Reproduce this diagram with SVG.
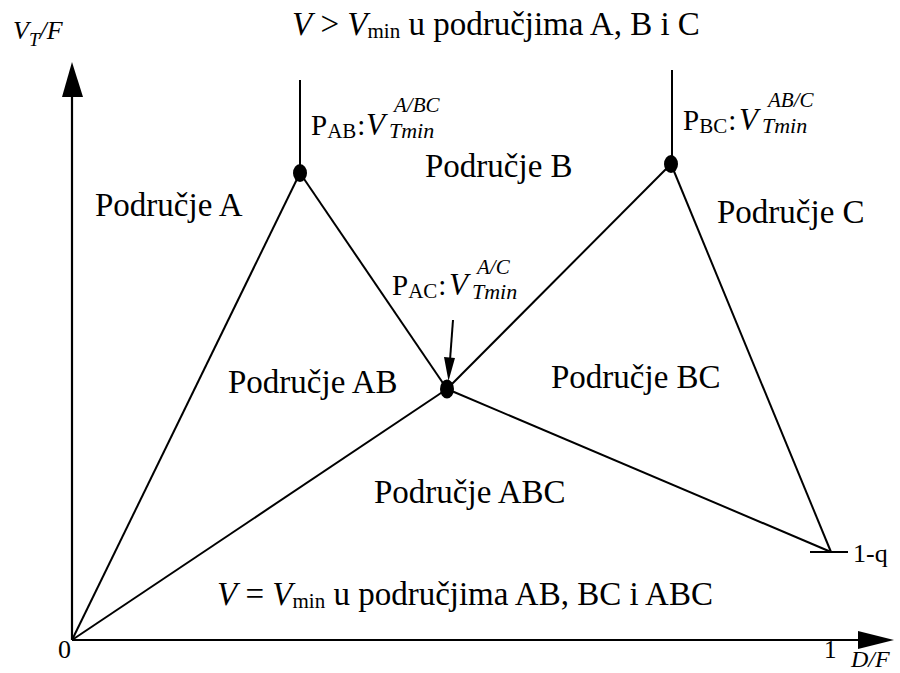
<svg xmlns="http://www.w3.org/2000/svg" width="900" height="673" viewBox="0 0 900 673">
<style>
text{font-family:"Liberation Serif","Times New Roman",serif;fill:#000}
.lbl{font-size:33px}
.it{font-style:italic}
.ln{stroke:#000;stroke-width:2;fill:none}
.ax{stroke:#000;stroke-width:2.2;fill:none}
.pt{fill:#000}
</style>
<rect width="900" height="673" fill="#fff"/>
<g id="axes">
<line class="ax" x1="72" y1="640" x2="72" y2="92"/>
<polygon points="72,62 62,97 83,97" fill="#000"/>
<line class="ax" x1="72" y1="640" x2="862" y2="640"/>
<polygon points="894,640 858,631 858,649" fill="#000"/>
<text x="13" y="39" font-size="26" class="it">V<tspan font-size="19" dy="7">T</tspan><tspan dy="-7">/F</tspan></text>
<text x="851" y="667" font-size="24" class="it">D/F</text>
<text x="58" y="658" font-size="26">0</text>
<text x="824" y="658" font-size="25">1</text>
</g>
<g id="connectors">
<line class="ln" x1="72" y1="640" x2="300" y2="173"/>
<line class="ln" x1="72" y1="640" x2="447" y2="389"/>
<line class="ln" x1="300" y1="173" x2="447" y2="389"/>
<line class="ln" x1="447" y1="389" x2="671" y2="164"/>
<line class="ln" x1="447" y1="389" x2="831" y2="552"/>
<line class="ln" x1="671" y1="164" x2="831" y2="552"/>
<line class="ln" x1="300" y1="80" x2="300" y2="173"/>
<line class="ln" x1="672" y1="70" x2="672" y2="164"/>
<line class="ln" x1="810" y1="552" x2="848" y2="552"/>
<line class="ln" x1="453" y1="320" x2="450" y2="360"/>
<polygon points="448.5,381 444,357 455,358" fill="#000"/>
</g>
<g id="P_AB">
<ellipse class="pt" cx="300" cy="173" rx="7" ry="9"/>
<text x="311" y="135" font-size="29">P<tspan font-size="21" dy="3">AB</tspan><tspan dy="-3" dx="1">:</tspan></text>
<text x="366" y="135" font-size="31" class="it">V</text>
<text x="394" y="112" font-size="21" class="it">A/BC</text>
<text x="389" y="138" font-size="22" class="it">Tmin</text>
</g>
<g id="P_BC">
<ellipse class="pt" cx="671" cy="164" rx="7" ry="9"/>
<text x="683" y="130" font-size="29">P<tspan font-size="21" dy="3">BC</tspan><tspan dy="-3" dx="1">:</tspan></text>
<text x="739" y="130" font-size="31" class="it">V</text>
<text x="768" y="107" font-size="21" class="it">AB/C</text>
<text x="762" y="133" font-size="22" class="it">Tmin</text>
</g>
<g id="P_AC">
<ellipse class="pt" cx="447" cy="389" rx="7" ry="9.5"/>
<text x="392" y="295" font-size="29">P<tspan font-size="21" dy="3">AC</tspan><tspan dy="-3" dx="1">:</tspan></text>
<text x="449" y="295" font-size="31" class="it">V</text>
<text x="477" y="274" font-size="21" class="it">A/C</text>
<text x="472" y="299" font-size="22" class="it">Tmin</text>
</g>
<g id="end_1q">
<text x="853" y="562" font-size="26">1-q</text>
</g>
<g id="regions">
<text class="lbl" x="95" y="216">Područje A</text>
<text class="lbl" x="425" y="177">Područje B</text>
<text class="lbl" x="717" y="223">Područje C</text>
<text class="lbl" x="228" y="393">Područje AB</text>
<text class="lbl" x="551" y="388">Područje BC</text>
<text class="lbl" x="374" y="503">Područje ABC</text>
</g>
<g id="titles">
<text class="lbl" x="292" y="35"><tspan class="it">V</tspan> &gt; <tspan class="it">V</tspan><tspan font-size="21" dy="3">min</tspan><tspan dy="-3"> u područjima A, B i C</tspan></text>
<text class="lbl" x="217" y="605"><tspan class="it">V</tspan> = <tspan class="it">V</tspan><tspan font-size="21" dy="3">min</tspan><tspan dy="-3"> u područjima AB, BC i ABC</tspan></text>
</g>
</svg>
